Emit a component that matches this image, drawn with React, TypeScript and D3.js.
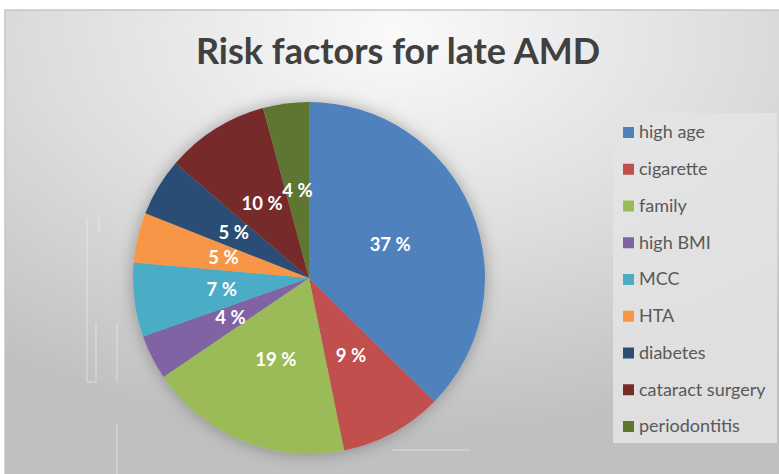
import React from "react";
import * as d3 from "d3";

const categories = ["high age", "cigarette", "family", "high BMI", "MCC", "HTA", "diabetes", "cataract surgery", "periodontitis"];
const values = [37.4, 9.4, 18.7, 4.1, 6.8, 4.6, 5.3, 9.5, 4.2];
const colors = ["#4F81BD", "#C0504D", "#9BBB59", "#8064A2", "#4BACC6", "#F79646", "#2C4D75", "#772C2A", "#5F7530"];
const title = "Risk factors for late AMD";

const W = 779, H = 474;
const FONT = "Lato, 'Open Sans', sans-serif";

export default function App() {
  const cx = 309, cy = 278, r = 176;
  const data = categories.map((c, i) => ({ c, v: values[i], col: colors[i] }));
  const pie = d3.pie<any>().value((d) => d.v).sort(null);
  const arcs = pie(data);
  const arc = d3.arc<any>().innerRadius(0).outerRadius(r);
  const total = d3.sum(values);
  const legendY = d3.scalePoint<string>().domain(categories).range([132, 426]);

  return (
    <svg width={W} height={H} style={{ position: "absolute", left: 0, top: 0 }} fontFamily={FONT}>
      <defs>
        <radialGradient id="bg" cx="0.5" cy="0.05" r="0.85" fx="0.5" fy="0.05">
          <stop offset="0" stopColor="#fafafa" />
          <stop offset="0.55" stopColor="#dcdcdc" />
          <stop offset="1" stopColor="#c0c0c0" />
        </radialGradient>
        <filter id="sh" x="-30%" y="-30%" width="160%" height="160%">
          <feDropShadow dx="0" dy="0" stdDeviation="8" floodColor="#000" floodOpacity="0.3" />
        </filter>
      </defs>
      <rect x={0} y={0} width={W} height={H} fill="#fff" />
      <rect x={5} y={10} width={W} height={H} fill="url(#bg)" stroke="#c6c6c6" strokeWidth={1.5} />
      <g stroke="#ffffff" strokeOpacity={0.45} strokeWidth={1} fill="none">
        <path d="M87,218V382H96V323" />
        <path d="M99,218V233" />
        <path d="M117,324V382" />
        <path d="M117,423V474" />
        <path d="M392,450H470" />
      </g>
      <text x={398} y={64} textAnchor="middle" fontSize={36} fontWeight="bold" fill="#404040">{title}</text>
      <g transform={`translate(${cx},${cy})`}>
        <g filter="url(#sh)">
          {arcs.map((a, i) => (
            <path key={i} d={arc(a) || ""} fill={a.data.col} />
          ))}
        </g>
        {arcs.map((a, i) => {
          const [x, y] = arc.centroid(a);
          return (
            <text key={"l" + i} x={x} y={y} dy="0.35em" textAnchor="middle" fontSize={18.5} fontWeight="bold" fill="#fff">
              {Math.round((a.data.v / total) * 100)} %
            </text>
          );
        })}
      </g>
      <rect x={613} y={113} width={164} height={330} fill="#e4e4e4" fillOpacity={0.85} />
      {categories.map((c, i) => (
        <g key={c} transform={`translate(623,${legendY(c)})`}>
          <rect x={0} y={-5} width={11} height={11} fill={colors[i]} />
          <text x={16} y={0} dy="0.35em" fontSize={18} fill="#595959">{c}</text>
        </g>
      ))}
    </svg>
  );
}
